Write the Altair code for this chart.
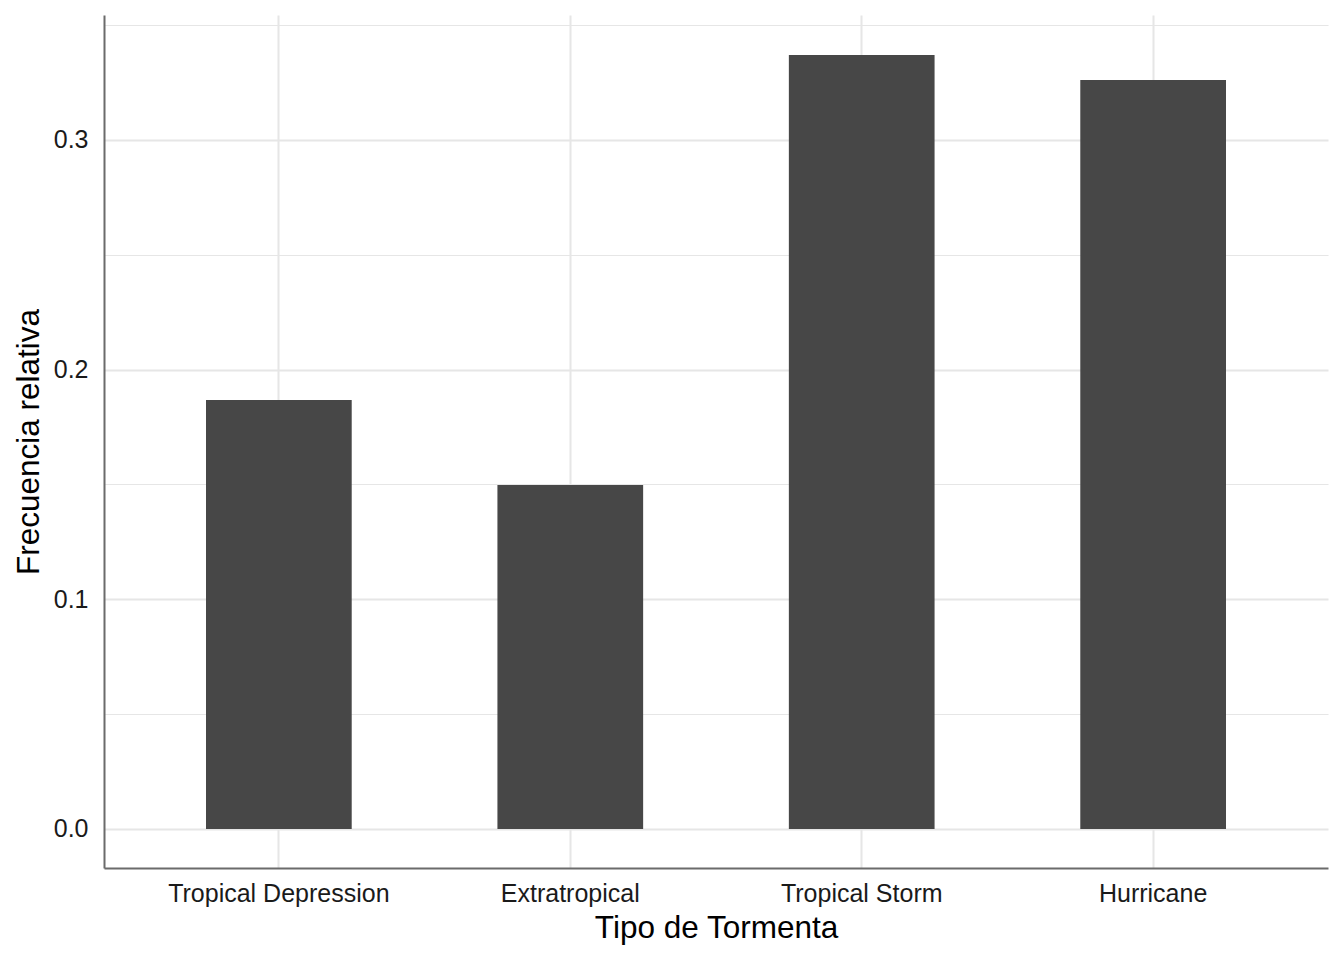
import altair as alt
import pandas as pd

categories = ["Tropical Depression", "Extratropical", "Tropical Storm", "Hurricane"]
values = [0.1868, 0.1498, 0.3370, 0.3261]
y_grid_values = [0.0, 0.05, 0.1, 0.15, 0.2, 0.25, 0.3, 0.35]

df = pd.DataFrame({"tipo": categories, "freq": values})

FONT = "Liberation Sans"

chart = alt.Chart(df).mark_bar(color="#474747").encode(
    x=alt.X(
        "tipo:N",
        sort=categories,
        title="Tipo de Tormenta",
        scale=alt.Scale(paddingInner=0.5, paddingOuter=0.35),
        axis=alt.Axis(
            labelAngle=0,
            labelLimit=0,
            grid=True,
            gridColor="#e6e6e6",
            gridWidth=2,
            bandPosition=0.5,
            ticks=False,
            tickSize=0,
            domainColor="#6b6b6b",
            domainWidth=2,
            labelFont=FONT,
            labelFontSize=25,
            labelColor="#1a1a1a",
            labelBaseline="alphabetic",
            labelPadding=33,
            titleFont=FONT,
            titleFontSize=31.5,
            titleFontWeight="normal",
            titleColor="#000000",
            titleBaseline="alphabetic",
            titleX=612,
            titleY=69,
        ),
    ),
    y=alt.Y(
        "freq:Q",
        title="Frecuencia relativa",
        scale=alt.Scale(domain=[-0.01698, 0.35438], nice=False, zero=False),
        axis=alt.Axis(
            values=y_grid_values,
            labelExpr="round(datum.value*20) % 2 == 0 ? format(datum.value, '.1f') : ''",
            grid=True,
            gridColor="#e6e6e6",
            gridWidth={"condition": {"test": "round(datum.value*20) % 2 == 0", "value": 2}, "value": 1.2},
            ticks=False,
            tickSize=0,
            domainColor="#6b6b6b",
            domainWidth=2,
            labelFont=FONT,
            labelFontSize=25,
            labelColor="#1a1a1a",
            labelPadding=16,
            labelBaseline="middle",
            titleFont=FONT,
            titleFontSize=31.5,
            titleFontWeight="normal",
            titleColor="#000000",
            titleBaseline="alphabetic",
            titleX=-66,
            titleY=426.5,
            titleAngle=270,
        ),
    ),
).properties(
    width=1224,
    height=853,
    autosize=alt.AutoSizeParams(type="none"),
    padding={"left": 96, "top": 7, "right": 8, "bottom": 80},
    background="white",
).configure_view(stroke=None)

chart.save("out.html", embed_options={"renderer": "svg", "actions": False})
